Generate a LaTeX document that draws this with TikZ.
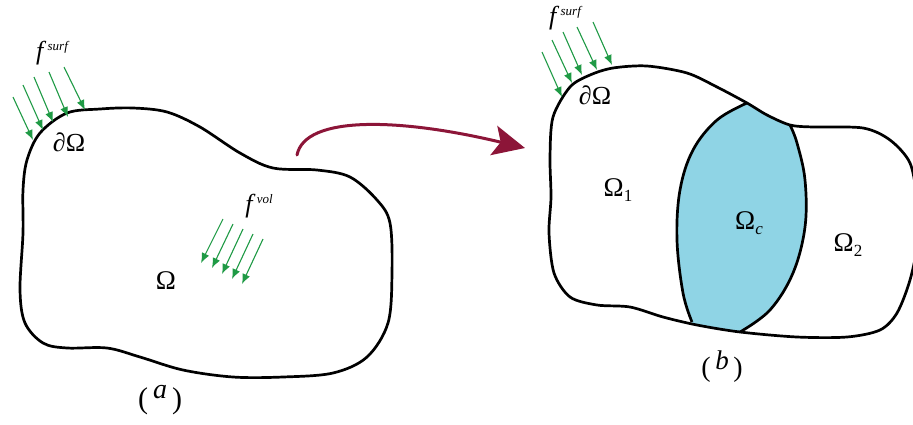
\documentclass[tikz,border=0pt]{standalone}
\usepackage{fontspec}
\setmainfont{Liberation Serif}
\usetikzlibrary{arrows.meta}
\definecolor{garrow}{HTML}{1F9A45}
\definecolor{redarr}{HTML}{8C1538}
\definecolor{cfill}{HTML}{8FD4E5}
\newcommand{\supx}[1]{\raisebox{9pt}{\fontsize{13}{15}\selectfont\itshape #1}}
\newcommand{\subx}[1]{\raisebox{-5pt}{\fontsize{17}{19}\selectfont #1}}
\begin{document}
\begin{tikzpicture}[x=1pt,y=-1pt,
  outline/.style={line width=2.7pt, line join=round},
  force/.style={draw=garrow, line width=1.1pt, -{Latex[length=10pt,width=8pt]}},
  omg/.style={inner sep=0pt, font=\fontsize{27}{30}\selectfont},
  domg/.style={inner sep=0pt, font=\fontsize{26}{30}\selectfont},
  flabel/.style={inner sep=0pt, font=\fontsize{26}{30}\selectfont\itshape}]
\useasboundingbox (0,0) rectangle (913,424);

% ---------- shape (a)
\draw[outline] plot[smooth cycle, tension=0.55] coordinates {
 (100,109) (133,108) (167,112) (200,127) (240,153) (273,168) (317,170)
 (350,177) (377,200) (390,223) (392,273) (388,323) (367,357) (333,373)
 (283,377) (233,377) (183,370) (140,357) (107,348) (67,348) (43,343)
 (25,323) (20,290) (23,233) (23,190) (27,160) (40,133) (67,113)};

% ---------- shape (b): fill of Omega_c clipped by the outline
\def\outerb{plot[smooth cycle, tension=0.5] coordinates {
 (590,75) (613,68) (647,66) (687,73) (717,87) (747,103) (767,115) (790,125)
 (813,127) (863,128) (890,140) (910,163) (917,200) (918,240) (910,280)
 (897,313) (880,330) (847,337) (797,337) (740,332) (697,325) (663,317)
 (630,307) (597,305) (570,297) (554,273) (549,233) (551,197) (550,157)
 (553,117) (570,87)}}
\begin{scope}
  \clip \outerb;
  \fill[cfill] plot[smooth, tension=0.6] coordinates {
    (747,103) (717,120) (693,150) (680,190) (677,240) (683,293) (692,322)}
    -- (700,360) -- (745,360) --
    plot[smooth, tension=0.6] coordinates {
    (740,332) (770,310) (793,273) (805,227) (805,180) (797,143) (790,125)}
    -- (790,90) -- (745,90) -- cycle;
\end{scope}
\draw[outline] \outerb;
\draw[outline] plot[smooth, tension=0.6] coordinates {
  (747,103) (717,120) (693,150) (680,190) (677,240) (683,293) (692,322)};
\draw[outline] plot[smooth, tension=0.6] coordinates {
  (740,332) (770,310) (793,273) (805,227) (805,180) (797,143) (790,125)};

% ---------- green force arrows, (a) surface
\foreach \sx/\sy/\ex/\ey in {13/97/33/140, 23/85/43/130, 34/77/53/122, 49/72/68/117, 64/67/85/110}
  \draw[force] (\sx,\sy) -- (\ex,\ey);
% (a) volume
\foreach \sx/\sy/\ex/\ey in {223/219/201/263, 233/224/212/268, 243/229/222/274, 253/234/232/279, 263/239/242/284}
  \draw[force] (\sx,\sy) -- (\ex,\ey);
% (b) surface
\foreach \sx/\sy/\ex/\ey in {542/52/562/97, 552/40/572/83, 563/32/582/75, 577/27/597/70, 593/22/612/65}
  \draw[force] (\sx,\sy) -- (\ex,\ey);

% ---------- labels
\node[flabel] (fsa) at (52,53) {f\,\supx{surf}};
\node[flabel] (fva) at (259,206) {f\,\supx{vol}};
\node[flabel] (fsb) at (565,18) {f\,\supx{surf}};
\node[domg] (dOa) at (69,142) {∂Ω};
\node[omg] (Oa) at (166,281) {Ω};
\node[domg] (dOb) at (595,95) {∂Ω};
\node[omg] (O1) at (618,190) {Ω\subx{1}};
\node[omg] (Oc) at (749,223) {Ω\subx{\itshape c}};
\node[omg] (O2) at (848,245) {Ω\subx{2}};
\node[inner sep=0pt, font=\fontsize{30}{32}\selectfont] (capa) at (160,400)
  {(\,\raisebox{10pt}{\fontsize{28}{30}\selectfont\itshape a}\,)};
\node[inner sep=0pt, font=\fontsize{28}{30}\selectfont] (capb) at (722,367)
  {(\,\raisebox{7pt}{\fontsize{27}{30}\selectfont\itshape b}\,)};

% ---------- red transformation arrow
\coordinate (rs) at (297,155);
\coordinate (re) at (525,148);
\draw[draw=redarr, line width=3pt, line cap=round,
      -{Stealth[length=32pt,width=30pt,inset=7pt,fill=redarr]}]
  (rs) .. controls (305,115) and (400,118) .. (re);
\end{tikzpicture}
\end{document}
